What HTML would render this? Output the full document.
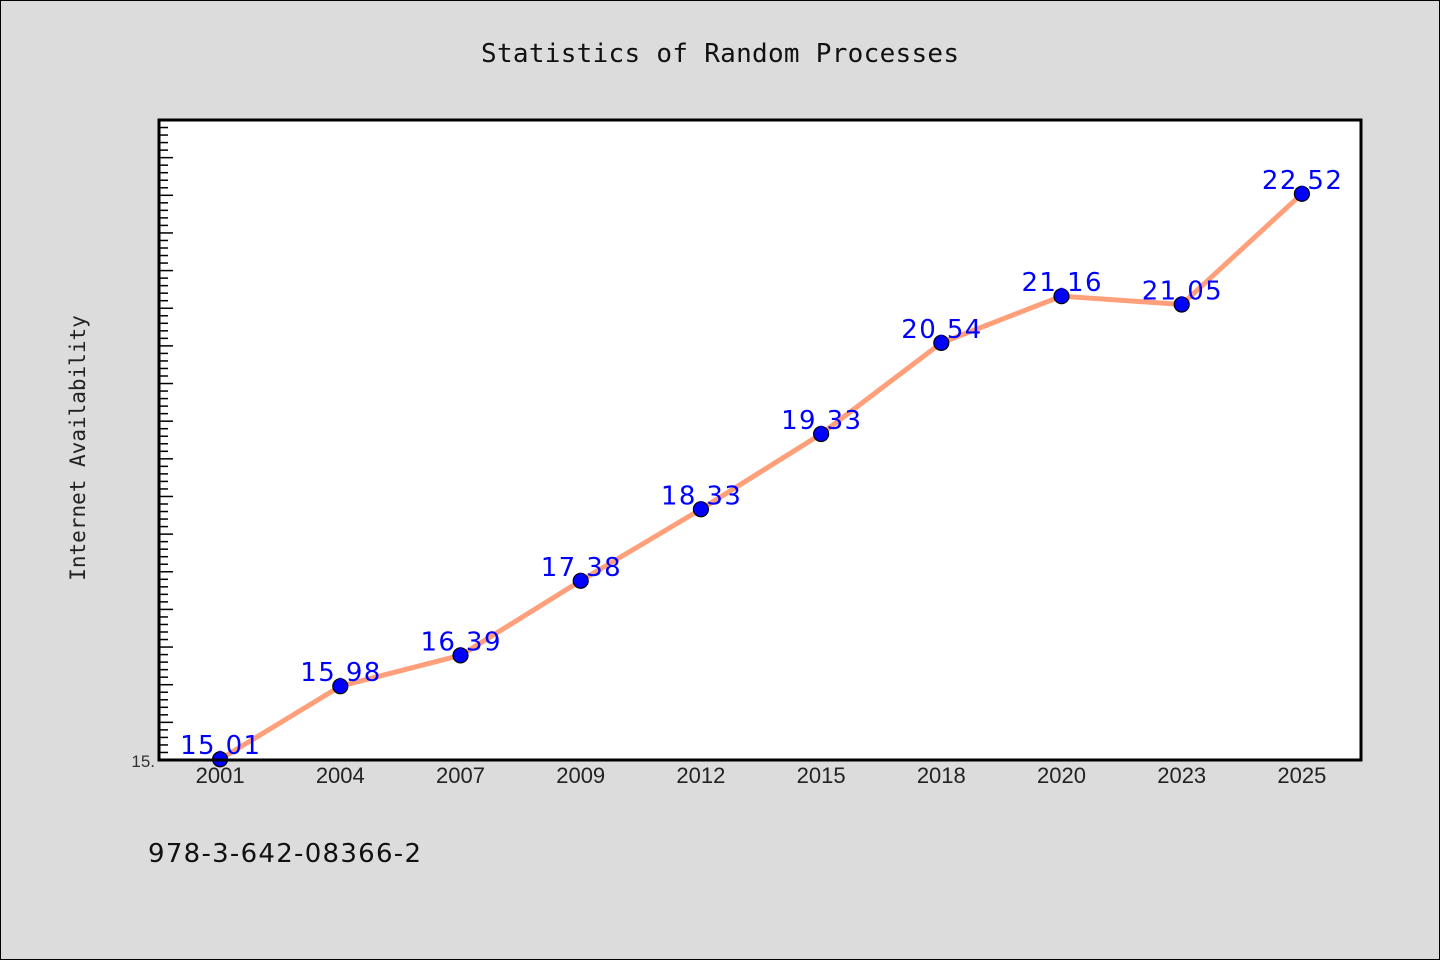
<!DOCTYPE html>
<html><head><meta charset="utf-8"><style>
html,body{margin:0;padding:0;background:#dcdcdc;}
svg{display:block;}
</style></head><body>
<svg id="chart" width="1440" height="960" xmlns="http://www.w3.org/2000/svg">
<rect x="0.5" y="0.5" width="1439" height="959" fill="#dcdcdc" stroke="#000"/>
<text x="720" y="62" text-anchor="middle" font-family="DejaVu Sans Mono, monospace" font-size="26" textLength="478" fill="#111">Statistics of Random Processes</text>
<rect x="159" y="120" width="1202" height="640" fill="#fff"/>
<g id="yticks"></g>
<g id="series"></g>
<rect x="159" y="120" width="1202" height="640" fill="none" stroke="#000" stroke-width="3"/>
<g id="xticks"></g>
<text transform="translate(85,448) rotate(-90)" text-anchor="middle" font-family="DejaVu Sans Mono, monospace" font-size="21" fill="#222">Internet Availability</text>
<text x="148" y="862" font-family="DejaVu Sans, sans-serif" font-size="26" textLength="273" fill="#111">978-3-642-08366-2</text>
</svg>
<script>
const categories = ["2001","2004","2007","2009","2012","2015","2018","2020","2023","2025"];
const values = [15.01,15.98,16.39,17.38,18.33,19.33,20.54,21.16,21.05,22.52];
const yMin = 15.0, yMax = 23.5;
const NS = "http://www.w3.org/2000/svg";
const L = 159, R = 1361, T = 120, B = 760;
const step = (R - L) / categories.length;
function xs(i){ return L + step * (i + 0.5) + 1; }
function ys(v){ return B - (v - yMin) / (yMax - yMin) * (B - T); }
function mk(tag, attrs, parent){ const e = document.createElementNS(NS, tag); for (const k in attrs) e.setAttribute(k, attrs[k]); parent.appendChild(e); return e; }
const yg = document.getElementById('yticks');
for (let k = 0; k <= 85; k++) {
  const v = yMin + k * 0.1;
  const y = ys(v);
  const major = k % 5 === 0;
  const t = mk('line', {x1: L, x2: L + (major ? 14 : 9), y1: y, y2: y, stroke: '#000', 'stroke-width': 1.5}, yg);
  
  
}
const yl = mk('text', {x: 155, y: 767, 'text-anchor': 'end', 'font-family': 'Liberation Sans, sans-serif', 'font-size': 17, fill: '#333'}, yg);
yl.textContent = "15.";


const xg = document.getElementById('xticks');
categories.forEach((c, i) => {
  const t = mk('text', {x: xs(i), y: 783, 'text-anchor': 'middle', 'font-family': 'Liberation Sans, sans-serif', 'font-size': 22, fill: '#222'}, xg);
  t.textContent = c;
  
  
});
const sg = document.getElementById('series');
const pts = values.map((v, i) => xs(i) + ',' + ys(v)).join(' ');
const pl = mk('polyline', {points: pts, fill: 'none', stroke: '#ffa07a', 'stroke-width': 5, 'stroke-linejoin': 'round'}, sg);


values.forEach((v, i) => {
  const c = mk('circle', {cx: xs(i), cy: ys(v), r: 7.5, fill: '#0000ff', stroke: '#000', 'stroke-width': 1.2}, sg);
  
  
});
values.forEach((v, i) => {
  const t = mk('text', {x: xs(i), y: ys(v) - 5, 'text-anchor': 'middle', 'font-family': 'DejaVu Sans, sans-serif', 'font-size': 26, fill: '#0000ff', textLength: 80}, sg);
  t.textContent = v.toFixed(2);
  
  
});
</script>
</body></html>
